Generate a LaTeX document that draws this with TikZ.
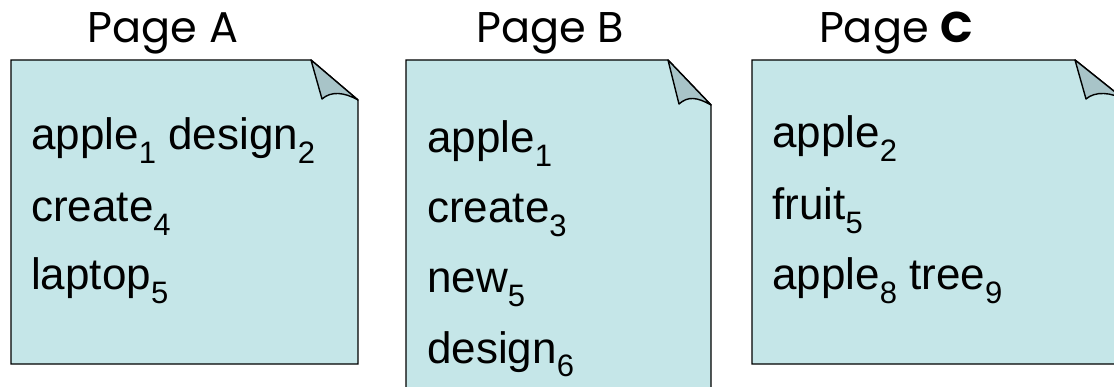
\documentclass[tikz,border=0pt]{standalone}
\usepackage{fontspec}
\setmainfont{Liberation Sans}
\newfontfamily\titlefont{Poppins}
\usetikzlibrary{positioning}
\definecolor{sheetfill}{RGB}{197,230,232}
\definecolor{flapfill}{RGB}{168,196,200}
\newcommand{\ix}[1]{\raisebox{-0.3em}{\fontsize{31}{31}\selectfont #1}}

\begin{document}
\begin{tikzpicture}[x=1pt, y=-1pt,
  every node/.style={inner sep=0pt, anchor=base west},
  sheet/.style={draw=black, line width=1.4pt, fill=sheetfill},
  flap/.style={draw=black, line width=1.4pt, fill=flapfill, line join=round},
  title/.style={font=\titlefont\fontsize{43}{43}\selectfont, anchor=base},
  word/.style={font=\fontsize{44}{44}\selectfont}
]
\clip (0,0) rectangle (1114,387);

%% sheets: left/right/fold start/fold end/bottom
\foreach \l/\r/\f/\e/\b in {11/358/311/100/364, 406/711/668/105/420, 752/1125/1075/100/364}{
  \draw[sheet] (\l,60) -- (\f,60) -- (\r,\e) -- (\r,\b) -- (\l,\b) -- cycle;
  \draw[flap] (\f,60) -- (\f+11,\e-1)
    .. controls (\f+20,\e-9) and (\r-14,\e-8) .. (\r,\e) -- cycle;
}

%% titles
\node[title] (ta) at (163,43) {Page A};
\node[title] (tb) at (550,43) {Page B};
\node[title] (tc) at (896,43) {Page \textbf{C}};

%% Page A words
\node[word] (a1) at (31,150) {apple\ix{1} design\ix{2}};
\node[word] (a2) at (31,222) {create\ix{4}};
\node[word] (a3) at (31,290) {laptop\ix{5}};

%% Page B words
\node[word] (b1) at (427,153) {apple\ix{1}};
\node[word] (b2) at (427,223) {create\ix{3}};
\node[word] (b3) at (427,293) {new\ix{5}};
\node[word] (b4) at (427,363) {design\ix{6}};

%% Page C words
\node[word] (c1) at (772,148) {apple\ix{2}};
\node[word] (c2) at (772,220) {fruit\ix{5}};
\node[word] (c3) at (772,290) {apple\ix{8} tree\ix{9}};
\end{tikzpicture}
\end{document}
